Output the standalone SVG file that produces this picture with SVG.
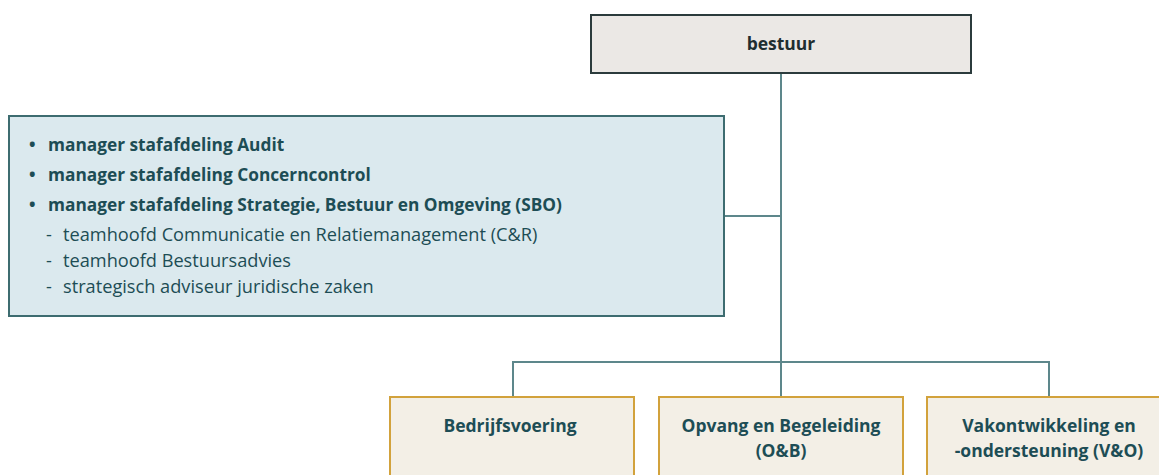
<svg xmlns="http://www.w3.org/2000/svg" width="1159" height="475" viewBox="0 0 1159 475">
<style>
.t{font-family:"Open Sans","Liberation Sans",sans-serif;fill:#1d4d55;}
.b{font-weight:700;font-size:17.3px;}
.r{font-weight:400;font-size:18.2px;}
.h{font-weight:700;font-size:17.5px;}
.c{text-anchor:middle;}
.conn{stroke:#5d878b;stroke-width:2;fill:none;}
.gold{fill:#f3efe6;stroke:#d2a23c;stroke-width:2;}
</style>
<rect width="1159" height="475" fill="#ffffff"/>
<g id="connectors">
<line class="conn" x1="781" y1="73" x2="781" y2="397"/>
<line class="conn" x1="724" y1="216" x2="781" y2="216"/>
<polyline class="conn" points="513,397 513,362 1049,362 1049,397"/>
</g>
<g id="bestuur">
<rect x="591" y="15" width="380" height="58" fill="#ebe8e5" stroke="#2b3b3c" stroke-width="2"/>
<text class="t h c" x="781" y="50" style="fill:#1f2e30">bestuur</text>
</g>
<g id="staf">
<rect x="9" y="116" width="715" height="200" fill="#dbe9ee" stroke="#3d6c70" stroke-width="2"/>
<text class="t b" x="29" y="151">•</text>
<text class="t b" x="48" y="151">manager stafafdeling Audit</text>
<text class="t b" x="29" y="181">•</text>
<text class="t b" x="48" y="181">manager stafafdeling Concerncontrol</text>
<text class="t b" x="29" y="211">•</text>
<text class="t b" x="48" y="211">manager stafafdeling Strategie, Bestuur en Omgeving (SBO)</text>
<text class="t r" x="46" y="241">-</text>
<text class="t r" x="63" y="241">teamhoofd Communicatie en Relatiemanagement (C&amp;R)</text>
<text class="t r" x="46" y="267">-</text>
<text class="t r" x="63" y="267">teamhoofd Bestuursadvies</text>
<text class="t r" x="46" y="293">-</text>
<text class="t r" x="63" y="293">strategisch adviseur juridische zaken</text>
</g>
<g id="bedrijfsvoering">
<rect class="gold" x="390" y="397" width="244" height="90"/>
<text class="t h c" x="510" y="432">Bedrijfsvoering</text>
</g>
<g id="opvang">
<rect class="gold" x="659" y="397" width="244" height="90"/>
<text class="t h c" x="781" y="432">Opvang en Begeleiding</text>
<text class="t h c" x="781" y="457">(O&amp;B)</text>
</g>
<g id="vakontwikkeling">
<rect class="gold" x="927" y="397" width="244" height="90"/>
<text class="t h c" x="1049" y="432">Vakontwikkeling en</text>
<text class="t h c" x="1049" y="457">-ondersteuning (V&amp;O)</text>
</g>
</svg>
